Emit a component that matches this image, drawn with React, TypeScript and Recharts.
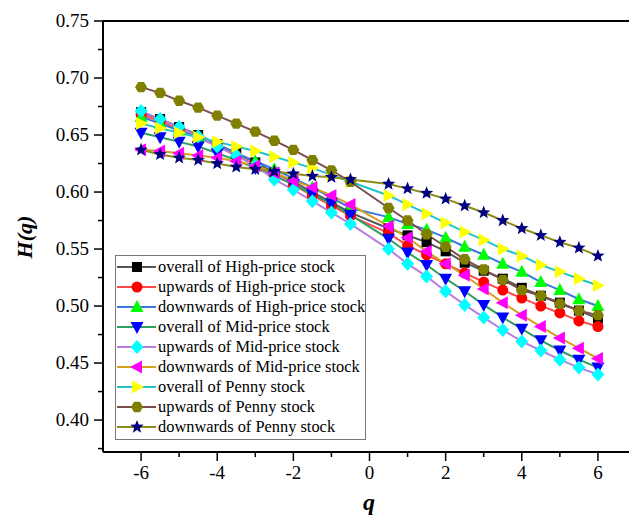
import React from 'react';
import { LineChart, Line, XAxis, YAxis, Legend, ReferenceLine } from 'recharts';

// q values (q = 0 is not in the data)
const qValues = [-6, -5.5, -5, -4.5, -4, -3.5, -3, -2.5, -2, -1.5, -1, -0.5, 0.5, 1, 1.5, 2, 2.5, 3, 3.5, 4, 4.5, 5, 5.5, 6];

const overallHigh = [0.670, 0.664, 0.657, 0.650, 0.642, 0.634, 0.626, 0.617, 0.609, 0.600, 0.591, 0.582, 0.568, 0.562, 0.556, 0.548, 0.538, 0.531, 0.524, 0.516, 0.509, 0.503, 0.496, 0.489];
const upwardsHigh = [0.668, 0.662, 0.655, 0.648, 0.640, 0.632, 0.624, 0.615, 0.606, 0.597, 0.588, 0.579, 0.564, 0.553, 0.545, 0.537, 0.529, 0.521, 0.514, 0.507, 0.500, 0.494, 0.487, 0.482];
const downwardsHigh = [0.666, 0.660, 0.654, 0.648, 0.641, 0.634, 0.627, 0.620, 0.612, 0.604, 0.595, 0.586, 0.578, 0.572, 0.567, 0.560, 0.552, 0.545, 0.537, 0.530, 0.521, 0.514, 0.506, 0.500];
const overallMid = [0.652, 0.648, 0.644, 0.640, 0.634, 0.628, 0.621, 0.614, 0.607, 0.598, 0.590, 0.580, 0.559, 0.547, 0.536, 0.524, 0.513, 0.501, 0.490, 0.480, 0.470, 0.461, 0.453, 0.446];
const upwardsMid = [0.671, 0.664, 0.657, 0.649, 0.640, 0.632, 0.623, 0.611, 0.602, 0.592, 0.582, 0.572, 0.550, 0.537, 0.526, 0.513, 0.501, 0.490, 0.479, 0.469, 0.461, 0.453, 0.446, 0.440];
const downwardsMid = [0.637, 0.636, 0.634, 0.632, 0.630, 0.627, 0.623, 0.617, 0.610, 0.604, 0.597, 0.589, 0.570, 0.560, 0.548, 0.537, 0.527, 0.515, 0.503, 0.492, 0.482, 0.472, 0.463, 0.454];
const overallPenny = [0.660, 0.656, 0.652, 0.648, 0.644, 0.640, 0.636, 0.631, 0.626, 0.621, 0.615, 0.609, 0.597, 0.589, 0.581, 0.573, 0.565, 0.558, 0.550, 0.544, 0.536, 0.530, 0.524, 0.518];
const upwardsPenny = [0.692, 0.687, 0.680, 0.674, 0.667, 0.660, 0.653, 0.645, 0.637, 0.628, 0.619, 0.609, 0.586, 0.575, 0.563, 0.552, 0.541, 0.532, 0.523, 0.514, 0.509, 0.502, 0.496, 0.492];
const downwardsPenny = [0.637, 0.633, 0.630, 0.628, 0.625, 0.622, 0.620, 0.618, 0.616, 0.614, 0.613, 0.611, 0.607, 0.603, 0.599, 0.594, 0.588, 0.582, 0.575, 0.568, 0.562, 0.556, 0.551, 0.544];

const xTicks = [-7, -6, -5, -4, -3, -2, -1, 0, 1, 2, 3, 4, 5, 6, 7];
const xLabels = [-6, -4, -2, 0, 2, 4, 6];
const yTicks = [0.375, 0.4, 0.425, 0.45, 0.475, 0.5, 0.525, 0.55, 0.575, 0.6, 0.625, 0.65, 0.675, 0.7, 0.725, 0.75];
const yLabels = [0.4, 0.45, 0.5, 0.55, 0.6, 0.65, 0.7, 0.75];

type Kind = 'square' | 'circle' | 'up' | 'down' | 'diamond' | 'left' | 'right' | 'hexagon' | 'star';

const series: { key: string; name: string; values: number[]; line: string; fill: string; kind: Kind }[] = [
  { key: 'oh', name: 'overall of High-price stock', values: overallHigh, line: '#555555', fill: '#000000', kind: 'square' },
  { key: 'uh', name: 'upwards of High-price stock', values: upwardsHigh, line: '#ff4a4a', fill: '#ff0000', kind: 'circle' },
  { key: 'dh', name: 'downwards of High-price stock', values: downwardsHigh, line: '#3a78dc', fill: '#00ff00', kind: 'up' },
  { key: 'om', name: 'overall of Mid-price stock', values: overallMid, line: '#2e9e60', fill: '#0000ff', kind: 'down' },
  { key: 'um', name: 'upwards of Mid-price stock', values: upwardsMid, line: '#b57ee0', fill: '#00ffff', kind: 'diamond' },
  { key: 'dm', name: 'downwards of Mid-price stock', values: downwardsMid, line: '#d4a020', fill: '#ff00ff', kind: 'left' },
  { key: 'op', name: 'overall of Penny stock', values: overallPenny, line: '#22c4c8', fill: '#ffff00', kind: 'right' },
  { key: 'up', name: 'upwards of Penny stock', values: upwardsPenny, line: '#7d4c4c', fill: '#808000', kind: 'hexagon' },
  { key: 'dp', name: 'downwards of Penny stock', values: downwardsPenny, line: '#8c8c1a', fill: '#000080', kind: 'star' },
];

const data = qValues.map((q, i) => {
  const row: Record<string, number> = { q };
  series.forEach((s) => {
    row[s.key] = s.values[i];
  });
  return row;
});

const FONT = '"Liberation Serif", "Times New Roman", serif';

const poly = (pts: number[][]) => pts.map((p) => p.join(',')).join(' ');

const Marker = ({ kind, cx, cy, fill }: { kind: Kind; cx: number; cy: number; fill: string }) => {
  const s = 6;
  switch (kind) {
    case 'square':
      return <rect x={cx - 5} y={cy - 5} width={10} height={10} fill={fill} />;
    case 'circle':
      return <circle cx={cx} cy={cy} r={5.5} fill={fill} />;
    case 'up':
      return <polygon points={poly([[cx, cy - s - 1], [cx + s + 0.5, cy + s - 1], [cx - s - 0.5, cy + s - 1]])} fill={fill} />;
    case 'down':
      return <polygon points={poly([[cx, cy + s + 1], [cx + s + 0.5, cy - s + 1], [cx - s - 0.5, cy - s + 1]])} fill={fill} />;
    case 'left':
      return <polygon points={poly([[cx - s - 1, cy], [cx + s - 1, cy - s - 0.5], [cx + s - 1, cy + s + 0.5]])} fill={fill} />;
    case 'right':
      return <polygon points={poly([[cx + s + 1, cy], [cx - s + 1, cy - s - 0.5], [cx - s + 1, cy + s + 0.5]])} fill={fill} />;
    case 'diamond':
      return <polygon points={poly([[cx, cy - 7], [cx + 6.5, cy], [cx, cy + 7], [cx - 6.5, cy]])} fill={fill} />;
    case 'hexagon': {
      const pts = [0, 1, 2, 3, 4, 5].map((k) => {
        const a = (Math.PI / 3) * k;
        return [cx + 6 * Math.cos(a), cy + 6 * Math.sin(a)];
      });
      return <polygon points={poly(pts)} fill={fill} />;
    }
    case 'star': {
      const pts: number[][] = [];
      for (let k = 0; k < 10; k++) {
        const r = k % 2 === 0 ? 7 : 3;
        const a = -Math.PI / 2 + (Math.PI / 5) * k;
        pts.push([cx + r * Math.cos(a), cy + r * Math.sin(a)]);
      }
      return <polygon points={poly(pts)} fill={fill} />;
    }
    default:
      return null;
  }
};

const YTick = (props: any) => {
  const { x, y, payload } = props;
  const v = payload.value as number;
  const major = yLabels.some((l) => Math.abs(l - v) < 1e-6);
  return (
    <g>
      <line x1={x} x2={x - (major ? 9 : 5)} y1={y} y2={y} stroke="#000" strokeWidth={1.5} />
      {major && (
        <text x={x - 14} y={y} dy={6} textAnchor="end" fontFamily={FONT} fontSize={19} fill="#000">
          {v.toFixed(2)}
        </text>
      )}
    </g>
  );
};

const XTick = (props: any) => {
  const { x, y, payload } = props;
  const v = payload.value as number;
  const major = xLabels.includes(v);
  if (v === -7) return <g />;
  return (
    <g>
      <line x1={x} x2={x} y1={y} y2={y + (major ? 9 : 5)} stroke="#000" strokeWidth={1.5} />
      {major && (
        <text x={x} y={y + 27} textAnchor="middle" fontFamily={FONT} fontSize={19} fill="#000">
          {v}
        </text>
      )}
    </g>
  );
};

const renderLegend = () => (
  <div
    style={{
      border: '1px solid #777',
      background: '#fff',
      width: 249,
      padding: '1px 0 2px 0',
      fontFamily: FONT,
      fontSize: 16.4,
      color: '#000',
    }}
  >
    {series.map((s) => (
      <div key={s.key} style={{ display: 'flex', alignItems: 'center', height: 20 }}>
        <svg width={42} height={16} style={{ flex: 'none' }}>
          <line x1={1} x2={40} y1={8} y2={8} stroke={s.line} strokeWidth={2} />
          <Marker kind={s.kind} cx={21} cy={8} fill={s.fill} />
        </svg>
        <span style={{ whiteSpace: 'nowrap', marginLeft: 0 }}>{s.name}</span>
      </div>
    ))}
  </div>
);

const App = () => {
  return (
    <div style={{ position: 'absolute', left: 0, top: 0, width: 629, height: 518, overflow: 'hidden', background: '#fff' }}>
      <LineChart width={640} height={518} data={data} margin={{ top: 21, right: 4, bottom: 0, left: 0 }}>
        <XAxis
          dataKey="q"
          type="number"
          domain={[-7, 7]}
          ticks={xTicks}
          interval={0}
          tickSize={0}
          tickMargin={0}
          tickLine={false}
          tick={<XTick />}
          height={66}
          axisLine={{ stroke: '#000', strokeWidth: 2 }}
          label={{
            content: () => (
              <text x={369} y={510} textAnchor="middle" fontFamily={FONT} fontSize={24} fontWeight="bold" fontStyle="italic" fill="#000">
                q
              </text>
            ),
          }}
        />
        <YAxis
          type="number"
          domain={[0.372, 0.75]}
          ticks={yTicks}
          interval={0}
          width={103}
          tickSize={0}
          tickMargin={0}
          tickLine={false}
          tick={<YTick />}
          axisLine={{ stroke: '#000', strokeWidth: 2 }}
          label={{
            content: () => (
              <text
                x={32}
                y={237}
                transform="rotate(-90 32 237)"
                textAnchor="middle"
                fontFamily={FONT}
                fontSize={22}
                fontWeight="bold"
                fontStyle="italic"
                fill="#000"
              >
                H(q)
              </text>
            ),
          }}
        />
        <ReferenceLine y={0.75} stroke="#000" strokeWidth={2} />
        <ReferenceLine x={7} stroke="#000" strokeWidth={2} />
        {series.map((s) => (
          <Line
            key={s.key}
            dataKey={s.key}
            name={s.name}
            stroke={s.line}
            strokeWidth={2}
            type="linear"
            isAnimationActive={false}
            dot={(p: any) => <Marker key={`${s.key}-${p.index}`} kind={s.kind} cx={p.cx} cy={p.cy} fill={s.fill} />}
            activeDot={false}
          />
        ))}
        <Legend
          layout="vertical"
          align="center"
          verticalAlign="middle"
          content={renderLegend}
          wrapperStyle={{ position: 'absolute', left: 115, top: 255, width: 251 }}
        />
      </LineChart>
    </div>
  );
};

export default App;
